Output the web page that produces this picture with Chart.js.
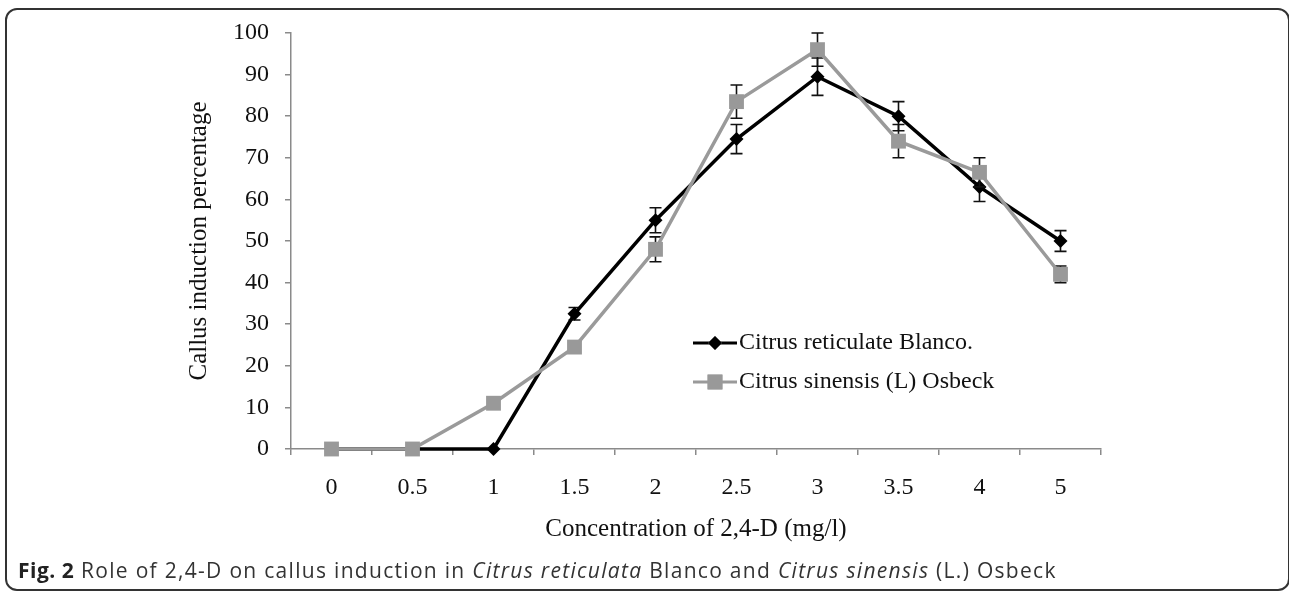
<!DOCTYPE html>
<html lang="en">
<head>
    <meta charset="UTF-8">
    <title>Callus induction - 2,4-D</title>
    <script src="https://cdn.jsdelivr.net/npm/chart.js"></script>
    <style>
        body {
            margin: 0;
            width: 1289px;
            height: 592px;
            background: #fff;
            overflow: hidden;
            position: relative;
        }

        .frame {
            position: absolute;
            left: 5px;
            top: 8px;
            width: 1281px;
            height: 579px;
            border: 2px solid #333;
            border-radius: 12px;
        }

        .chart-box {
            position: absolute;
            left: 0;
            top: 0;
            width: 1289px;
            height: 560px;
        }

        .caption {
            position: absolute;
            left: 18px;
            top: 556px;
            font-family: "Open Sans", "Liberation Sans", sans-serif;
            font-size: 21px;
            letter-spacing: 1.3px;
            color: #333;
            white-space: nowrap;
        }

        .caption b {
            color: #222;
            letter-spacing: 0.5px;
        }
    </style>
</head>
<body>
    <div class="frame"></div>
    <div class="chart-box">
        <canvas id="callusChart"></canvas>
    </div>
    <div class="caption"><b>Fig. 2</b> Role of 2,4-D on callus induction in <i>Citrus reticulata</i> Blanco and <i>Citrus sinensis</i> (L.) Osbeck</div>

    <script>
        // concentrations of 2,4-D (mg/l)
        const concentrations = ['0', '0.5', '1', '1.5', '2', '2.5', '3', '3.5', '4', '5'];

        // callus induction percentage
        const reticulata = [0, 0, 0, 32.5, 55, 74.5, 89.5, 80, 63, 50];
        const reticulataErr = [0, 0, 0, 1.5, 3, 3.5, 4.5, 3.5, 3.5, 2.5];

        const sinensis = [0, 0, 11, 24.5, 48, 83.5, 96, 74, 66.5, 42];
        const sinensisErr = [0, 0, 0, 1, 3, 4, 4, 4, 3.5, 2];

        const legendNames = ['Citrus reticulate Blanco.', 'Citrus sinensis (L) Osbeck'];
        const yTicks = [0, 10, 20, 30, 40, 50, 60, 70, 80, 90, 100];

        const serif = "'Liberation Serif', 'Times New Roman', serif";
        const axisGrey = '#8a8a8a';

        // error bars, drawn just before each dataset so the markers sit on top
        const errorBars = {
            id: 'errorBars',
            beforeDatasetDraw(chart, args) {
                const ds = chart.data.datasets[args.index];
                if (!ds.errors) return;
                const y = chart.scales.y;
                const meta = chart.getDatasetMeta(args.index);
                const ctx = chart.ctx;
                ctx.save();
                ctx.strokeStyle = '#111';
                ctx.lineWidth = 1.6;
                meta.data.forEach((pt, i) => {
                    const e = ds.errors[i];
                    if (!e) return;
                    const top = y.getPixelForValue(ds.data[i] + e);
                    const bot = y.getPixelForValue(ds.data[i] - e);
                    ctx.beginPath();
                    ctx.moveTo(pt.x, top);
                    ctx.lineTo(pt.x, bot);
                    ctx.moveTo(pt.x - 6, top);
                    ctx.lineTo(pt.x + 6, top);
                    ctx.moveTo(pt.x - 6, bot);
                    ctx.lineTo(pt.x + 6, bot);
                    ctx.stroke();
                });
                ctx.restore();
            }
        };

        // legend sits inside the plot, lower right of centre
        const innerLegend = {
            id: 'innerLegend',
            afterDraw(chart) {
                const ctx = chart.ctx;
                const area = chart.chartArea;
                const x0 = area.left + 402;
                const rowY = [area.bottom - 106, area.bottom - 67];
                chart.data.datasets.forEach((ds, i) => {
                    const y = rowY[i];
                    ctx.save();
                    ctx.strokeStyle = ds.borderColor;
                    ctx.lineWidth = 3;
                    ctx.beginPath();
                    ctx.moveTo(x0, y);
                    ctx.lineTo(x0 + 44, y);
                    ctx.stroke();
                    Chart.helpers.drawPoint(ctx, {
                        pointStyle: ds.pointStyle,
                        radius: ds.pointRadius,
                        borderWidth: 0
                    }, x0 + 22, y);
                    ctx.fillStyle = ds.pointBackgroundColor;
                    ctx.fill();
                    ctx.fillStyle = '#111';
                    ctx.font = '24px ' + serif;
                    ctx.textBaseline = 'middle';
                    ctx.fillText(legendNames[i], x0 + 46, y);
                    ctx.restore();
                });
            }
        };

        const ctx = document.getElementById('callusChart').getContext('2d');
        new Chart(ctx, {
            type: 'line',
            data: {
                labels: concentrations,
                datasets: [{
                    label: legendNames[0],
                    data: reticulata,
                    errors: reticulataErr,
                    borderColor: '#000',
                    backgroundColor: '#000',
                    pointBackgroundColor: '#000',
                    pointBorderWidth: 0,
                    borderWidth: 3.5,
                    pointStyle: 'rectRot',
                    pointRadius: 7,
                    tension: 0,
                    clip: false,
                    order: 1
                }, {
                    label: legendNames[1],
                    data: sinensis,
                    errors: sinensisErr,
                    borderColor: '#9a9a9a',
                    backgroundColor: '#9a9a9a',
                    pointBackgroundColor: '#999',
                    pointBorderWidth: 0,
                    borderWidth: 3.5,
                    pointStyle: 'rect',
                    pointRadius: 10.5,
                    tension: 0,
                    clip: false,
                    order: 0
                }]
            },
            options: {
                responsive: true,
                maintainAspectRatio: false,
                animation: false,
                layout: { padding: { left: 184, top: 33, right: 188, bottom: 16 } },
                plugins: {
                    legend: { display: false },
                    tooltip: { enabled: false }
                },
                scales: {
                    x: {
                        offset: true,
                        grid: {
                            offset: true,
                            drawOnChartArea: false,
                            tickLength: 6,
                            color: axisGrey,
                            lineWidth: 1.5
                        },
                        border: { color: axisGrey, width: 1.5 },
                        ticks: {
                            color: '#111',
                            padding: 18,
                            maxRotation: 0,
                            font: { family: serif, size: 24 }
                        },
                        title: {
                            display: true,
                            text: 'Concentration of 2,4-D (mg/l)',
                            color: '#111',
                            padding: 0,
                            font: { family: serif, size: 25 }
                        },
                        afterFit(scale) { scale.height = 95; }
                    },
                    y: {
                        min: 0,
                        max: 100,
                        afterBuildTicks(scale) { scale.ticks = yTicks.map(v => ({ value: v })); },
                        grid: {
                            drawOnChartArea: false,
                            tickLength: 6,
                            color: axisGrey,
                            lineWidth: 1.5
                        },
                        border: { color: axisGrey, width: 1.5 },
                        ticks: {
                            color: '#111',
                            padding: 16,
                            font: { family: serif, size: 24 }
                        },
                        title: {
                            display: true,
                            text: 'Callus induction percentage',
                            color: '#111',
                            padding: 0,
                            font: { family: serif, size: 25 }
                        },
                        afterFit(scale) { scale.width = 107; }
                    }
                }
            },
            plugins: [errorBars, innerLegend]
        });
    </script>
</body>
</html>
